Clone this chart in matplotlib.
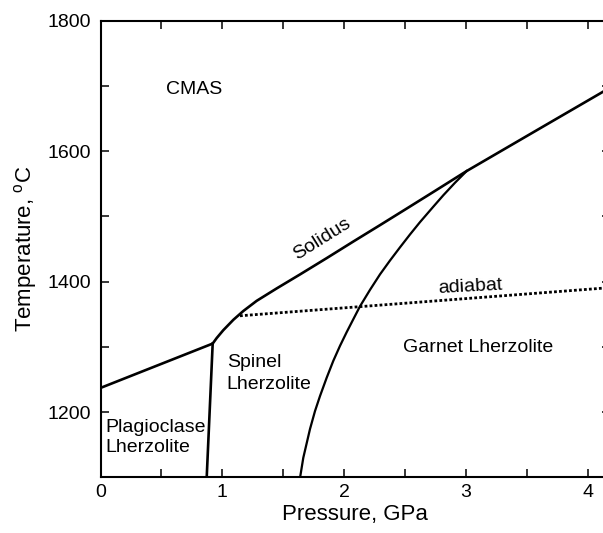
import matplotlib
matplotlib.use("Agg")
import matplotlib.pyplot as plt
from matplotlib.ticker import MultipleLocator, FixedLocator

plt.rcParams['font.family'] = ['Liberation Sans', 'DejaVu Sans']
plt.rcParams['mathtext.fontset'] = 'custom'
plt.rcParams['mathtext.rm'] = 'Liberation Sans'

# ---- data (pressure in GPa, temperature in degC) ----
solidus_p = [0.0, 0.921, 0.954, 1.008, 1.091, 1.173, 1.282, 1.446, 1.638, 1.857, 2.076,
             2.294, 2.514, 2.733, 3.006, 3.581, 4.125, 4.183]
solidus_t = [1237, 1305, 1313.5, 1325.5, 1341.5, 1355, 1370.5, 1389.5, 1411, 1436, 1461.5,
             1486.5, 1512, 1537.5, 1569.5, 1632, 1691, 1697.3]

plag_spinel_p = [0.872, 0.921]
plag_spinel_t = [1100, 1305]

garnet_p = [1.638, 1.665, 1.72, 1.761, 1.802, 1.857, 1.911, 1.966, 2.021, 2.076, 2.13,
            2.213, 2.295, 2.377, 2.459, 2.541, 2.623, 2.733, 2.815, 2.91, 3.006]
garnet_t = [1099, 1130, 1174, 1201.5, 1224.5, 1252.7, 1278.4, 1301.4, 1322.5, 1342.5, 1362,
            1387.5, 1411.2, 1432.4, 1452.6, 1472.3, 1491.2, 1515, 1532.5, 1551.5, 1569.5]

adiabat_p = [1.145, 4.183]
adiabat_t = [1347.6, 1390.8]

x_ticks = [0, 1, 2, 3, 4]
y_ticks = [1200, 1400, 1600, 1800]

# labels: (text, x, y, rotation)
labels = [
    ("CMAS", 0.538, 1688, 0),
    ("Solidus", 1.616, 1433, 32),
    ("adiabat", 2.774, 1383, 3),
    ("Garnet Lherzolite", 2.486, 1292.2, 0),
    ("Spinel", 1.036, 1269.2, 0),
    ("Lherzolite", 1.036, 1235.8, 0),
    ("Plagioclase", 0.037, 1169.3, 0),
    ("Lherzolite", 0.037, 1138.5, 0),
]

W, H = 603, 533
fig = plt.figure(figsize=(W / 100, H / 100), dpi=100)
left_px, right_px, top_px, bottom_px = 100.5, 610.0, 20.7, 477.3
ax = fig.add_axes([left_px / W, 1 - bottom_px / H, (right_px - left_px) / W, (bottom_px - top_px) / H])

lw = 1.9
ax.plot(solidus_p, solidus_t, color='black', lw=lw, solid_joinstyle='round', solid_capstyle='butt')
ax.plot(plag_spinel_p, plag_spinel_t, color='black', lw=lw)
ax.plot(garnet_p, garnet_t, color='black', lw=lw * 0.85, solid_joinstyle='round')
ax.plot(adiabat_p, adiabat_t, color='black', lw=2.0, linestyle=(0, (1.0, 0.8)))

for txt, x, y, rot in labels:
    ax.text(x, y, txt, fontsize=14, ha='left', va='baseline', rotation=rot,
            rotation_mode='anchor')

ax.set_xlim(0, 4.183)
ax.set_ylim(1100, 1800)
ax.xaxis.set_major_locator(FixedLocator(x_ticks))
ax.xaxis.set_minor_locator(MultipleLocator(0.5))
ax.yaxis.set_major_locator(FixedLocator(y_ticks))
ax.yaxis.set_minor_locator(MultipleLocator(100))

ax.tick_params(which='both', direction='in', length=6, width=1.1, top=True, right=True)
ax.tick_params(which='major', labelsize=14)
ax.tick_params(axis='x', which='major', pad=5)
ax.tick_params(axis='y', which='major', pad=7)
for s in ax.spines.values():
    s.set_linewidth(1.5)

ax.set_xlabel("Pressure, GPa", fontsize=16, labelpad=2)
ax.set_ylabel(r"Temperature, $^{\mathrm{o}}$C", fontsize=16, labelpad=6)

fig.savefig("out.png", dpi=100)
